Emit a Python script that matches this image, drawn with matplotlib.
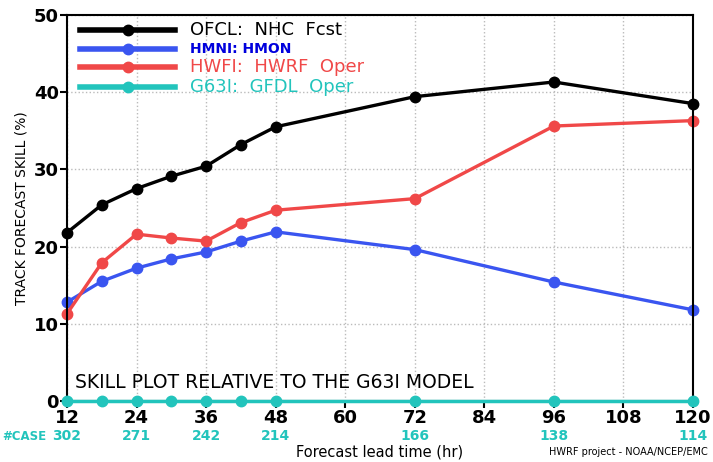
import numpy as np
import matplotlib.pyplot as plt

hours = [12, 18, 24, 30, 36, 42, 48, 72, 96, 120]
ofcl = [21.8, 25.4, 27.5, 29.1, 30.4, 33.2, 35.5, 39.4, 41.3, 38.5]
hmni = [12.8, 15.5, 17.2, 18.4, 19.3, 20.7, 21.9, 19.6, 15.4, 11.8]
hwfi = [11.3, 17.9, 21.6, 21.1, 20.7, 23.1, 24.7, 26.2, 35.6, 36.3]
g63i = [0, 0, 0, 0, 0, 0, 0, 0, 0, 0]

case_hours = [12, 24, 36, 48, 72, 96, 120]
case_counts = ["302", "271", "242", "214", "166", "138", "114"]

cyan = "#22c4bc"
fig = plt.figure(figsize=(7.13, 4.62), dpi=100)
ax = fig.add_axes([0.094, 0.132, 0.878, 0.836])

ax.plot(hours, g63i, color=cyan, lw=2.5, marker="o", ms=7.5, clip_on=False, zorder=3)
ax.plot(hours, hmni, color="#3a55f0", lw=2.4, marker="o", ms=7.5, clip_on=False)
ax.plot(hours, hwfi, color="#f04848", lw=2.4, marker="o", ms=7.5, clip_on=False)
ax.plot(hours, ofcl, color="black", lw=2.4, marker="o", ms=7.5, clip_on=False)

ax.set_xlim(12, 120)
ax.set_ylim(0, 50)
ax.set_xticks(range(12, 121, 12))
ax.set_yticks(range(0, 51, 10))
ax.tick_params(labelsize=13, width=1.5, length=5, pad=1)
for lab in ax.get_xticklabels() + ax.get_yticklabels():
    lab.set_fontweight("bold")
ax.grid(True, linestyle=":", color="#bbbbbb", lw=1)
for s in ax.spines.values():
    s.set_linewidth(1.5)
ax.set_ylabel("TRACK FORECAST SKILL (%)", fontsize=10)
fig.text(0.533, 0.021, "Forecast lead time (hr)", ha="center", va="center", fontsize=10.5)

# legend drawn by hand
names = ["OFCL:  NHC  Fcst", "HMNI: HMON", "HWFI:  HWRF  Oper", "G63I:  GFDL  Oper"]
cols = ["black", "#3a55f0", "#f04848", cyan]
tcols = ["black", "#0000dd", "#f04848", cyan]
ys = [0.961, 0.912, 0.865, 0.813]
for i in range(4):
    yy = ys[i]
    ax.plot([0.021, 0.173], [yy, yy], transform=ax.transAxes, color=cols[i], lw=4, zorder=5)
    ax.plot([0.097], [yy], transform=ax.transAxes, color=cols[i], marker="o", ms=7.5, zorder=5)
    if i == 1:
        ax.text(0.196, yy, names[i], transform=ax.transAxes, color=tcols[i], fontsize=10,
                fontweight="bold", va="center")
    else:
        ax.text(0.196, yy, names[i], transform=ax.transAxes, color=tcols[i], fontsize=13,
                va="center")

ax.text(0.013, 0.049, "SKILL PLOT RELATIVE TO THE G63I MODEL", transform=ax.transAxes,
        fontsize=13.5, va="center")

for h, c in zip(case_hours, case_counts):
    ax.annotate(c, (h, 0), xycoords=("data", "axes fraction"), xytext=(0, -25.5),
                textcoords="offset points", ha="center", va="center", color=cyan,
                fontsize=10, fontweight="bold")
fig.text(0.003, 1 - 436 / 462, "#CASE", ha="left", va="center", color=cyan,
         fontsize=8.5, fontweight="bold")
fig.text(0.992, 0.022, "HWRF project - NOAA/NCEP/EMC", ha="right", va="center", fontsize=7)

fig.savefig("out.png")
